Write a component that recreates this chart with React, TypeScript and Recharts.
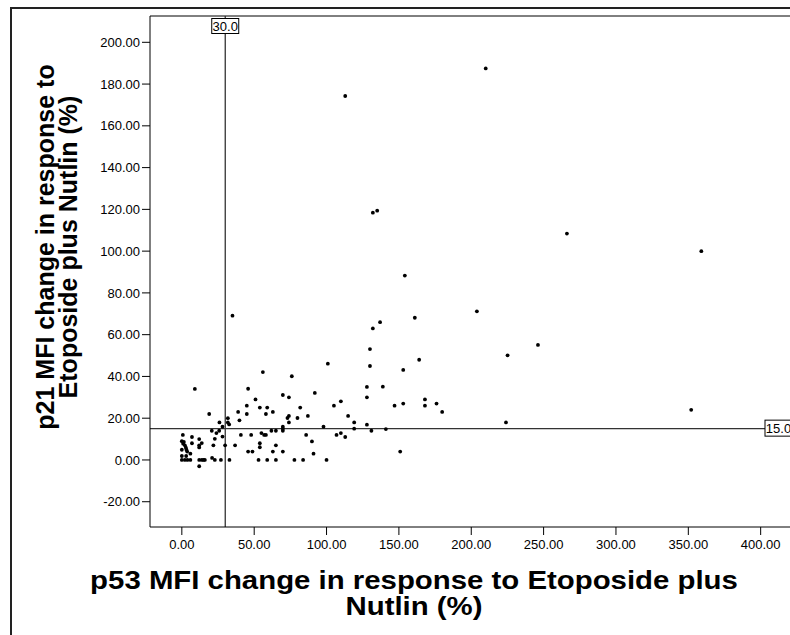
import React from 'react';
import { ScatterChart, Scatter, XAxis, YAxis, ReferenceLine } from 'recharts';

// p53 MFI change (%) — x values
const p53Change = [
  0.7, 7, 12, 13.8, 12, 12, 7, 0, 1.4, 0.9, 2.1, 2.8, 0, 3.2, 3.7, 5.9, 0, 3, 0, 2.1, 3.9, 5.9, 12, 13.8, 15, 15.9, 12,
  9, 18.9, 20.9, 22.8, 27, 21.8, 29.9, 32.9, 26, 31.8, 32.7, 31.8, 28.1, 25.8, 20.7, 23.9, 22.8, 28.1, 35,
  45.8, 56, 76, 100.9, 50.9, 69.8, 74, 91.9, 44.9, 44.9, 38.9, 39.8, 53.9, 59, 58.1, 62.9, 81.8, 87.1, 74, 73, 79.9, 74,
  105.1, 109.9, 114.9, 119.1, 97.9, 119.1, 69.8, 69.8, 69.8, 61.9, 65, 55, 56.9, 58.1, 47.9, 40.8, 85.9, 106.9, 109.9,
  112.9, 89.9, 53.9, 65, 53.9, 36.8, 45.8, 48.8, 62.9, 69.8, 91, 53, 59, 65, 77.8, 83.8, 100, 127.9, 127.9, 127.9,
  130, 130, 131, 132, 137, 112.9, 132, 135,
  138.9, 141, 154.1, 203.9, 161, 246.1, 225.1, 164, 153, 168, 147, 153, 168, 176, 179.9, 224, 150.9, 210, 266.1, 352, 359,
];

// p21 MFI change (%) — y values
const p21Change = [
  12, 11, 10, 8.1, 7, 6, 8, 9, 8.6, 7.8, 7, 5.9, 4.9, 4.9, 4, 3, 1.9, 1.9, 0, 0, 0, 0, 0, 0, 0, 0, -3,
  34, 22, 1, 0, 0, 7, 7, 0, 18, 20, 17, 18, 15.9, 14, 14, 12.9, 10.1, 11.2, 69.1,
  34.1, 42.1, 40.1, 46.1, 29, 31.1, 30, 32.1, 26, 22, 23, 19, 25.1, 25.1, 22, 23, 25.1, 21.1, 21.1, 20.1, 20.1, 18,
  26, 28.1, 21.1, 18, 15.9, 15, 15.9, 15, 14, 14, 14, 12.9, 12, 12, 12, 12, 12, 12, 12.9,
  11, 8.9, 8, 7, 6.1, 7, 4, 4, 4, 4, 3, 0, 0, 0, 0, 0, 0, 35, 30, 16.9,
  53.1, 45, 14, 63, 66, 174.3, 118.4, 119.4,
  35.1, 14.8, 88.3, 71.2, 68.1, 55.1, 50.1, 48, 43.1, 29, 26, 27, 26, 27, 23, 18, 4, 187.5, 108.4, 24, 100,
];

const xTicks = [0, 50, 100, 150, 200, 250, 300, 350, 400];
const yTicks = [-20, 0, 20, 40, 60, 80, 100, 120, 140, 160, 180, 200];
const xDomain = [-22, 441];
const yDomain = [-32.1, 212.6];
const xCut = 30;
const yCut = 15;

const data = p53Change.map((x, i) => ({ x, y: p21Change[i] }));

const FONT = '"Liberation Sans", Arial, Helvetica, sans-serif';

const Dot = (props: any) => <circle cx={props.cx} cy={props.cy} r={1.9} fill="#000" />;

const VLabel = (props: any) => {
  const { x, y } = props.viewBox;
  return (
    <g>
      <rect x={x - 13.5} y={y + 2.5} width={27} height={15} fill="#fff" stroke="#000" strokeWidth={1} />
      <text x={x} y={y + 14.5} textAnchor="middle" fontSize={13} fontFamily={FONT} fill="#000">
        {xCut.toFixed(1)}
      </text>
    </g>
  );
};

const HLabel = (props: any) => {
  const { x, y, width } = props.viewBox;
  const bx = x + width - 55;
  return (
    <g>
      <rect x={bx} y={y - 8.5} width={27} height={16} fill="#fff" stroke="#000" strokeWidth={1} />
      <text x={bx + 13.5} y={y + 4.5} textAnchor="middle" fontSize={13} fontFamily={FONT} fill="#000">
        {yCut.toFixed(1)}
      </text>
    </g>
  );
};

const YTitle = (props: any) => {
  const cx = 54;
  const cy = 247;
  return (
    <text
      transform={`rotate(-90 ${cx} ${cy})`}
      x={cx}
      y={cy}
      textAnchor="middle"
      fontSize={25}
      fontWeight="bold"
      fontFamily={FONT}
      fill="#000"
    >
      <tspan x={cx} dy={0}>p21 MFI change in response to</tspan>
      <tspan x={cx} dy={23}>Etoposide plus Nutlin (%)</tspan>
    </text>
  );
};

const XTitle = (props: any) => {
  const cx = 414;
  const y = 589;
  const sx = 1.175;
  return (
    <text
      transform={`translate(${cx} 0) scale(${sx} 1) translate(${-cx} 0)`}
      x={cx}
      y={y}
      textAnchor="middle"
      fontSize={25}
      fontWeight="bold"
      fontFamily={FONT}
      fill="#000"
    >
      <tspan x={cx} dy={0}>p53 MFI change in response to Etoposide plus</tspan>
      <tspan x={cx} dy={26}>Nutlin (%)</tspan>
    </text>
  );
};

export default function App() {
  return (
    <div style={{ position: 'absolute', left: 0, top: 0, width: 790, height: 635, overflow: 'hidden', background: '#fff' }}>
      <div
        style={{
          position: 'absolute',
          left: 10,
          top: 7,
          width: 900,
          height: 800,
          borderTop: '2px solid #222',
          borderLeft: '2px solid #222',
        }}
      />
      <div style={{ position: 'absolute', left: 0, top: 0 }}>
        <ScatterChart width={820} height={635} margin={{ top: 16, right: 0, bottom: 0, left: 0 }}>
          <XAxis
            type="number"
            dataKey="x"
            domain={xDomain}
            ticks={xTicks}
            allowDataOverflow
            height={108}
            tickSize={8}
            tickMargin={5}
            tickFormatter={(v: number) => v.toFixed(2)}
            tick={{ fontSize: 13, fill: '#000', fontFamily: FONT }}
            axisLine={{ stroke: '#000' }}
            tickLine={{ stroke: '#000' }}
            label={{ content: XTitle }}
          />
          <YAxis
            type="number"
            dataKey="y"
            domain={yDomain}
            ticks={yTicks}
            allowDataOverflow
            width={150}
            tickSize={8}
            tickMargin={2}
            tickFormatter={(v: number) => v.toFixed(2)}
            tick={{ fontSize: 13, fill: '#000', fontFamily: FONT }}
            axisLine={{ stroke: '#000' }}
            tickLine={{ stroke: '#000' }}
            label={{ content: YTitle }}
          />
          <ReferenceLine y={yDomain[1]} stroke="#000" strokeWidth={1} />
          <ReferenceLine x={xCut} stroke="#333" strokeWidth={1.3} label={{ content: VLabel }} />
          <ReferenceLine y={yCut} stroke="#333" strokeWidth={1.3} label={{ content: HLabel }} />
          <Scatter data={data} shape={Dot} isAnimationActive={false} />
        </ScatterChart>
      </div>
    </div>
  );
}
